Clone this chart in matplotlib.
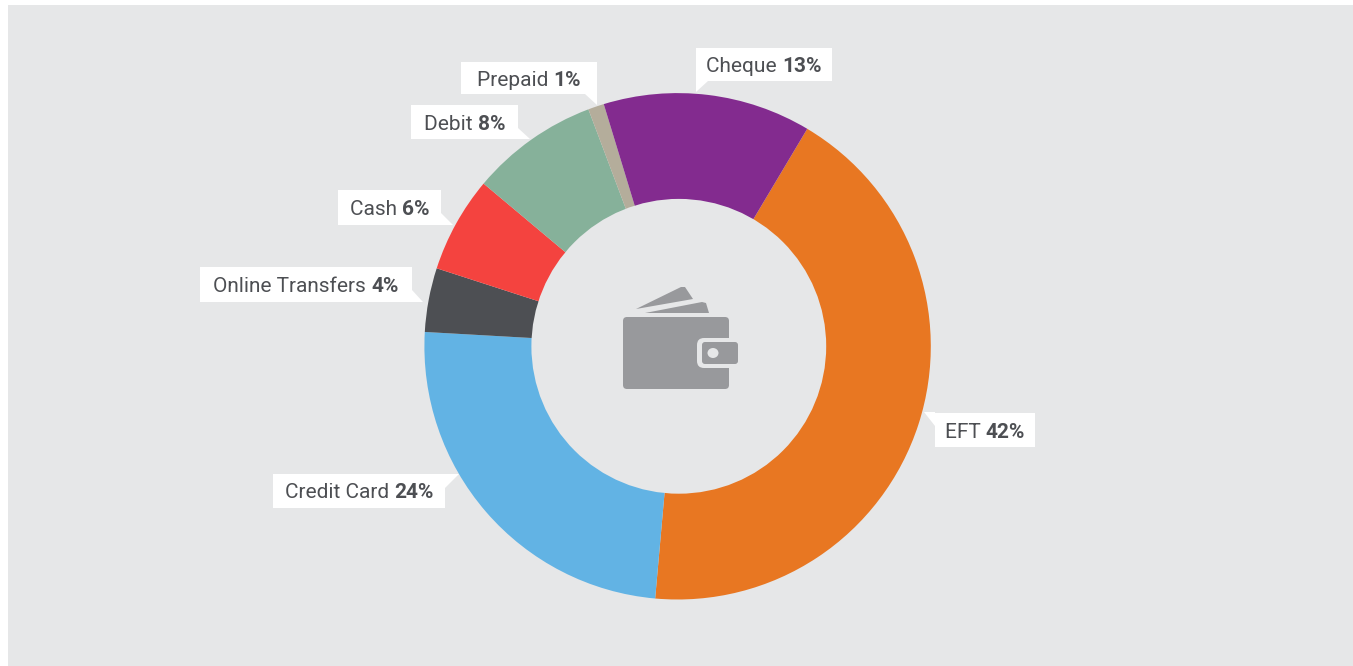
"""Payment method share donut with callout labels and a wallet icon."""
import matplotlib
matplotlib.use("Agg")
import matplotlib.pyplot as plt
from matplotlib.patches import Circle, Ellipse, FancyBboxPatch, Polygon, Rectangle

W, H = 1353, 666

# data
methods = ["EFT", "Credit Card", "Online Transfers", "Cash", "Debit", "Prepaid", "Cheque"]
shares = [42, 24, 4, 6, 8, 1, 13]
colors = ["#e87722", "#62b3e4", "#4d4f53", "#f4433f", "#86b19a", "#b4ad9b", "#832b8f"]

# callout boxes in image pixels: (left, top, right, bottom), tail triangle
boxes = {
    "EFT": ((935, 413, 1035, 447), [(935, 426), (935, 412), (924, 412)]),
    "Credit Card": ((273, 474, 445, 508), [(445, 474), (459, 474), (445, 488)]),
    "Online Transfers": ((200, 267, 412, 302), [(412, 290), (412, 302), (423, 302)]),
    "Cash": ((338, 190, 441, 225), [(441, 213), (441, 225), (453, 225)]),
    "Debit": ((411, 105, 518, 139), [(518, 128), (518, 139), (530, 139)]),
    "Prepaid": ((461, 62, 597, 94), [(585, 94), (597, 94), (597, 105)]),
    "Cheque": ((696, 48, 832, 81), [(696, 81), (708, 81), (696, 92)]),
}

BG = "#e6e7e8"
TEXT = "#4d4f53"
ICON = "#98999c"
CX, CY, R_OUT = 677.6, 346.3, 253.2
# the hole sits a little right of the ring centre in the source artwork
HOLE_X, HOLE_Y, R_IN = 678.8, 346.3, 147.4


def flip(pts):
    return [(x, H - y) for x, y in pts]


fig = plt.figure(figsize=(W / 100, H / 100), dpi=100, facecolor="white")
ax = fig.add_axes([0, 0, 1, 1])
ax.add_patch(Rectangle((8, 0), W - 8, H - 5, fc=BG, ec="none", zorder=0))

ax.pie(shares, colors=colors, startangle=59.2, counterclock=False,
       center=(CX, H - CY), radius=R_OUT, wedgeprops={"linewidth": 0})
ax.add_patch(Circle((HOLE_X, H - HOLE_Y), R_IN, fc=BG, ec="none", zorder=2))

ax.set_xlim(0, W)
ax.set_ylim(0, H)
ax.set_aspect("equal")
ax.axis("off")

r = fig.canvas.get_renderer()
for name, share in zip(methods, shares):
    (l, t, rt, b), tail = boxes[name]
    ax.add_patch(Rectangle((l, H - b), rt - l, b - t, fc="white", ec="none", zorder=3))
    ax.add_patch(Polygon(flip(tail), fc="white", ec="none", zorder=3))
    # name and bold value set side by side, centred in the box
    t1 = ax.text(0, 0, name + " ", fontsize=15, family="Roboto", color=TEXT, zorder=4, va="baseline")
    t2 = ax.text(0, 0, f"{share}%", fontsize=15, family="Roboto", weight="bold", color=TEXT, zorder=4, va="baseline")
    w1 = t1.get_window_extent(r).width
    w2 = t2.get_window_extent(r).width
    x0 = (l + rt) / 2 - (w1 + w2) / 2
    y0 = H - ((t + b) / 2 + 7.5)
    t1.set_position((x0, y0))
    t2.set_position((x0 + w1, y0))

# wallet icon
ax.add_patch(Polygon(flip([(636, 309), (681, 287), (685, 287), (693, 299)]),
                     fc=ICON, ec="none", zorder=3))
ax.add_patch(Polygon(flip([(645, 313), (702, 302), (706, 303), (709, 313)]),
                     fc=ICON, ec="none", zorder=3))
ax.add_patch(FancyBboxPatch((626, H - 386), 100, 66, boxstyle="round,pad=3,rounding_size=4",
                            fc=ICON, ec="none", zorder=3))
ax.add_patch(FancyBboxPatch((700, H - 365), 40, 24, boxstyle="round,pad=3,rounding_size=7",
                            fc=BG, ec="none", zorder=4))
ax.add_patch(Rectangle((729.5, H - 370), 12, 34, fc=BG, ec="none", zorder=4))
ax.add_patch(FancyBboxPatch((704, H - 362), 32, 18, boxstyle="round,pad=2,rounding_size=3",
                            fc=ICON, ec="none", zorder=5))
ax.add_patch(Ellipse((713, H - 353), 11, 10, fc=BG, ec="none", zorder=6))

fig.savefig("out.png", dpi=100, facecolor=fig.get_facecolor())
